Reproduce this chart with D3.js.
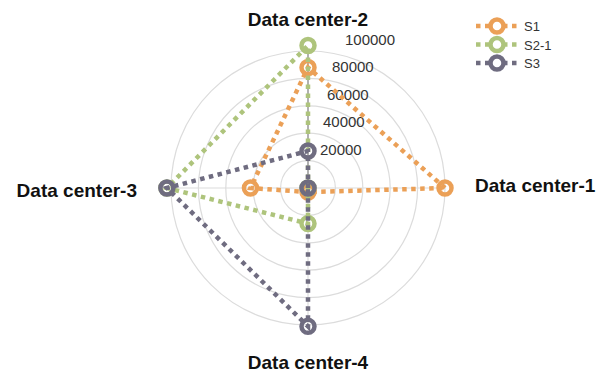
<!DOCTYPE html>
<html>
<head>
<meta charset="utf-8">
<script src="https://cdn.jsdelivr.net/npm/d3@7"></script>
<style>
  html, body { margin: 0; padding: 0; background: #fff; }
  svg { display: block; }
  text { font-family: "Liberation Sans", Arial, sans-serif; }
</style>
</head>
<body>
<svg id="chart" width="597" height="377"></svg>
<script>
// Radar axes (counter-clockwise starting at the right)
const indicators = ["Data center-1", "Data center-2", "Data center-3", "Data center-4"];
const seriesNames = ["S1", "S2-1", "S3"];
const s1Values = [100000, 88000, 42000, 3000];
const s2Values = [0, 104000, 103000, 26000];
const s3Values = [0, 27000, 103000, 101000];
const ringTicks = [20000, 40000, 60000, 80000, 100000];
const maxValue = 100000;
const colors = ["#EBA057", "#AEC47C", "#6F6C80"];

const series = [
  { name: seriesNames[0], values: s1Values, color: colors[0] },
  { name: seriesNames[1], values: s2Values, color: colors[1] },
  { name: seriesNames[2], values: s3Values, color: colors[2] }
];

const svg = d3.select("#chart");
const cx = 308, cy = 188;
const r = d3.scaleLinear().domain([0, maxValue]).range([0, 137]);
const angle = i => i * Math.PI / 2;
const pt = (i, v) => [cx + r(v) * Math.cos(angle(i)), cy - r(v) * Math.sin(angle(i))];

// Concentric rings
svg.append("g").selectAll("circle").data(ringTicks).join("circle")
  .attr("cx", cx).attr("cy", cy).attr("r", d => r(d))
  .attr("fill", "none").attr("stroke", "#dcdcdc").attr("stroke-width", 1.2);

// Spokes
svg.append("g").selectAll("line").data(indicators).join("line")
  .attr("x1", cx).attr("y1", cy)
  .attr("x2", (d, i) => pt(i, maxValue)[0])
  .attr("y2", (d, i) => pt(i, maxValue)[1])
  .attr("stroke", "#dcdcdc").attr("stroke-width", 1.2);

// Radial value axis along the second indicator
svg.append("line")
  .attr("x1", cx).attr("y1", cy).attr("x2", cx).attr("y2", cy - r(maxValue))
  .attr("stroke", "#8a8a8a").attr("stroke-width", 1.2);

const tickDx = [12, 15, 19, 24, 37];
svg.append("g").selectAll("text").data(ringTicks).join("text")
  .attr("x", (d, i) => cx + tickDx[i])
  .attr("y", d => cy - r(d) - 6)
  .attr("font-size", 15).attr("fill", "#333")
  .text(d => d);

// Indicator names
const nameLayout = [
  { x: 475, y: 192, anchor: "start" },
  { x: cx, y: 26, anchor: "middle" },
  { x: 137, y: 197, anchor: "end" },
  { x: cx, y: 369, anchor: "middle" }
];
svg.append("g").selectAll("text").data(indicators).join("text")
  .attr("x", (d, i) => nameLayout[i].x)
  .attr("y", (d, i) => nameLayout[i].y)
  .attr("text-anchor", (d, i) => nameLayout[i].anchor)
  .attr("font-size", 19).attr("font-weight", "bold").attr("fill", "#111")
  .text(d => d);

// Series polygons with hollow markers
const line = d3.line().curve(d3.curveLinearClosed);
series.forEach(s => {
  const g = svg.append("g");
  const pts = s.values.map((v, i) => pt(i, v));
  g.append("path").attr("d", line(pts))
    .attr("fill", "none").attr("stroke", s.color)
    .attr("stroke-width", 4.5).attr("stroke-dasharray", "4.5,4.5");
  g.selectAll("circle").data(pts).join("circle")
    .attr("cx", d => d[0]).attr("cy", d => d[1]).attr("r", 6.5)
    .attr("fill", "none").attr("stroke", s.color).attr("stroke-width", 4.5);
});

// Legend
const legend = svg.append("g").selectAll("g").data(series).join("g")
  .attr("transform", (d, i) => `translate(0, ${26 + i * 18.5})`);
legend.append("line")
  .attr("x1", 476).attr("x2", 517).attr("y1", 0).attr("y2", 0)
  .attr("stroke", d => d.color).attr("stroke-width", 4.5).attr("stroke-dasharray", "4.5,4.5");
legend.append("circle")
  .attr("cx", 497).attr("cy", 0).attr("r", 6.5)
  .attr("fill", "#fff").attr("stroke", d => d.color).attr("stroke-width", 4.5);
legend.append("text")
  .attr("x", 524).attr("y", 5).attr("font-size", 13).attr("fill", "#333")
  .text(d => d.name);
</script>
</body>
</html>
